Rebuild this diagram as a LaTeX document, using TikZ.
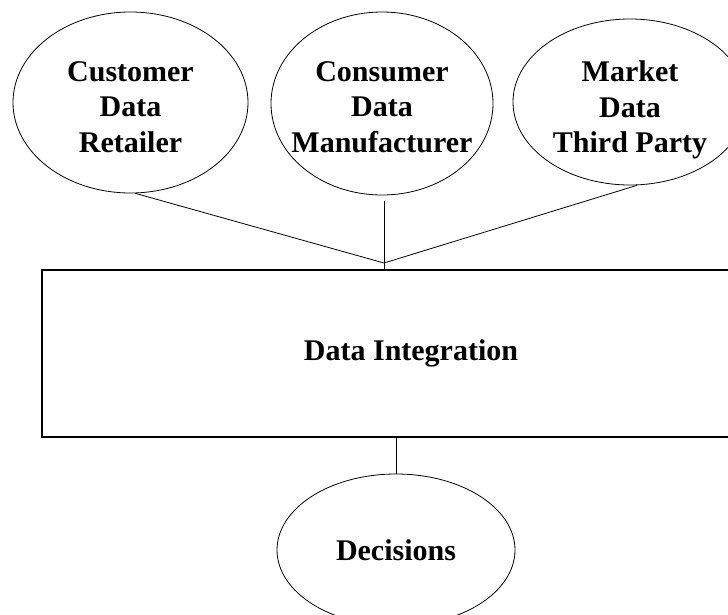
\documentclass[tikz,border=0pt]{standalone}
\usepackage{fontspec}
\setmainfont{Liberation Serif}
\usetikzlibrary{shapes.geometric}

\begin{document}
\begin{tikzpicture}[x=1pt,y=-1pt,
        src/.style={draw,ellipse,line width=0.8pt,inner sep=0pt},
        lbl/.style={font=\bfseries\fontsize{30}{35.5}\selectfont,align=center},
        blk/.style={draw,rectangle,line width=1.2pt,inner sep=0pt}]
        \path[use as bounding box,clip] (0,0) rectangle (728,614);
        % sources
        \node[src,minimum width=235,minimum height=181,label={[lbl,yshift=-4.5]center:{Customer\\Data\\Retailer}}] (cust) at (130.5,102.5) {};
        \node[src,minimum width=222,minimum height=183,label={[lbl,yshift=-3.5]center:{Consumer\\Data\\Manufacturer}}] (cons) at (382,103.5) {};
        \node[src,minimum width=234,minimum height=166,label={[lbl,yshift=-8]center:{Market\\Data\\Third Party}}] (mkt) at (630,102) {};
        % integration and result
        \node[blk,minimum width=738,minimum height=167,lbl] (integ) at (411,353.5) {Data Integration};
        \node[src,minimum width=238,minimum height=152,label={[lbl]center:Decisions}] (dec) at (396,550) {};
        \coordinate (join) at (384,263);
        \coordinate (stem) at (384,201);
        \draw[line width=0.8pt] (cust.-87) -- (join) -- (mkt.-85);
        \draw[line width=0.8pt] (stem) -- (stem |- integ.north);
        \draw[line width=0.8pt] (integ.south -| dec.north) -- (dec.north);
      \end{tikzpicture}
\end{document}
